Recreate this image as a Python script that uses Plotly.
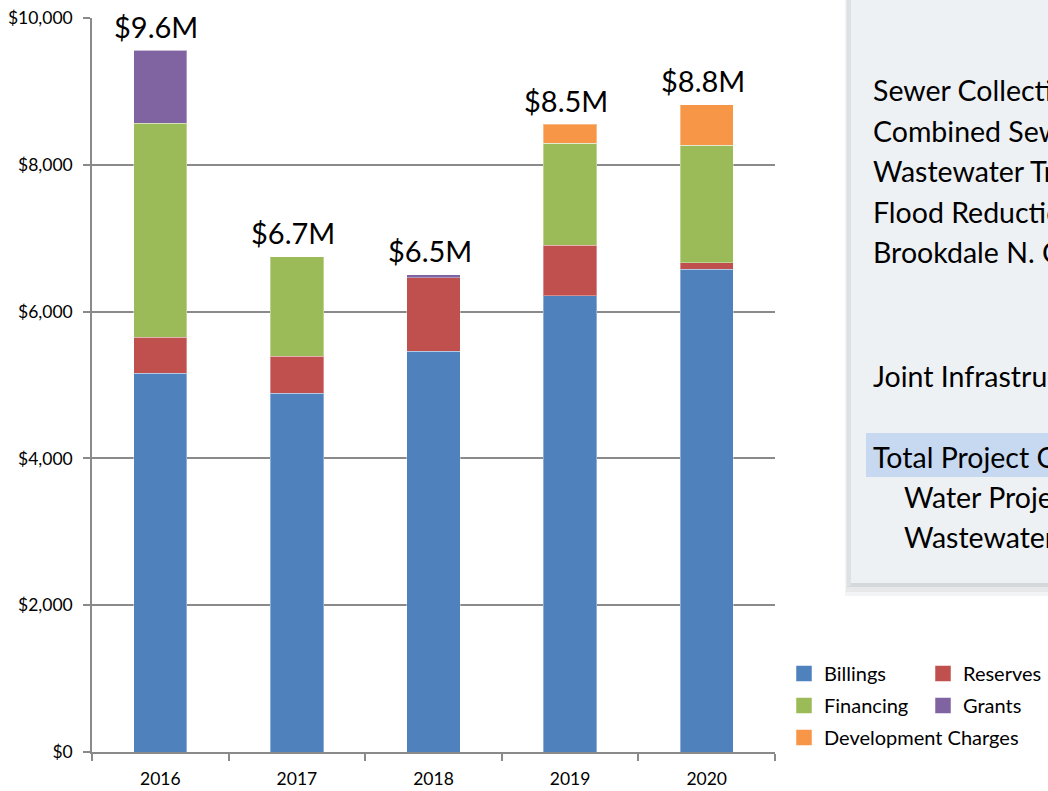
import plotly.graph_objects as go

years = ["2016", "2017", "2018", "2019", "2020"]
billings = [5163, 4891, 5463, 6213, 6576]
reserves = [490, 504, 999, 694, 90]
financing = [2915, 1349, 0, 1386, 1600]
grants = [995, 0, 43, 0, 0]
dev_charges = [0, 0, 0, 259, 549]
total_labels = ["$9.6M", "$6.7M", "$6.5M", "$8.5M", "$8.8M"]

series = [
    ("Billings", billings, "#4f81bd"),
    ("Reserves", reserves, "#c0504d"),
    ("Financing", financing, "#9bbb59"),
    ("Grants", grants, "#8064a2"),
    ("Development Charges", dev_charges, "#f79646"),
]
legend_slots = ["legend", "legend", "legend2", "legend2", "legend3"]

panel_text = [
    "Sewer Collection",
    "Combined Sewer",
    "Wastewater Treatment",
    "Flood Reduction",
    "Brookdale N. C",
    "Joint Infrastructure",
    "Total Project Costs",
    "Water Projects",
    "Wastewater Projects",
]

W, H = 1048, 791
ML, MR, MT, MB = 92, 273, 18, 39
PW, PH = W - ML - MR, H - MT - MB


def px(x):
    return (x - ML) / PW


def py(y):
    return (H - MB - y) / PH


FONT = "Lato, Calibri, Carlito, sans-serif"

fig = go.Figure()
for (name, vals, col), leg in zip(series, legend_slots):
    fig.add_trace(go.Bar(
        x=years, y=vals, name=name, legendgroup=name, showlegend=False,
        marker=dict(color=col, line=dict(color="rgba(255,255,255,0.35)", width=1)),
    ))
    # legend proxy (no data points) so the legend swatch can be larger
    fig.add_trace(go.Scatter(
        x=[None], y=[None], mode="markers", name=name, legendgroup=name, legend=leg,
        marker=dict(symbol="square", size=21, color=col,
                    line=dict(color="rgba(255,255,255,0.5)", width=1)),
    ))

totals = [sum(v) for v in zip(billings, reserves, financing, grants, dev_charges)]
for i, (tot, lab) in enumerate(zip(totals, total_labels)):
    fig.add_annotation(x=i, y=tot, text=lab, showarrow=False, yanchor="middle",
                       xanchor="center", yshift=24, xshift=-4,
                       font=dict(family=FONT, size=29, color="#000"))


def rect(x0, y0, x1, y1, color):
    return dict(type="rect", xref="paper", yref="paper", x0=px(x0), x1=px(x1),
                y0=py(y1), y1=py(y0), fillcolor=color, line=dict(width=0), layer="below")


shapes = [
    rect(845, -20, 1070, 596, "#f3f4f5"),
    rect(846, -20, 1070, 592, "#e6e8ea"),
    rect(847, -20, 1070, 587, "#d5d8db"),
    rect(847, -20, 851, 586, "#dde1e4"),
    rect(851, -20, 1070, 583, "#eef1f4"),
    rect(866, 433, 1070, 477, "#c6d9f0"),
]
fig.update_layout(shapes=shapes)

ann_font = dict(family=FONT, size=28.5, color="#000")
text_pos = [(871, 90), (871, 131), (871, 171), (871, 212), (871, 252),
            (871, 376), (871, 457), (902, 497), (902, 537)]
for t, (x, y) in zip(panel_text, text_pos):
    fig.add_annotation(xref="paper", yref="paper", x=px(x), y=py(y), text=t,
                       showarrow=False, xanchor="left", yanchor="middle", font=ann_font)

leg_common = dict(orientation="h", xanchor="left", yanchor="top",
                  traceorder="normal", itemwidth=30,
                  font=dict(family=FONT, size=20, color="#000"),
                  bgcolor="rgba(0,0,0,0)", itemclick=False, tracegroupgap=0)

fig.update_layout(
    width=W, height=H,
    margin=dict(l=ML, r=MR, t=MT, b=MB, autoexpand=False),
    barmode="stack", bargap=0.61,
    plot_bgcolor="white", paper_bgcolor="white",
    font=dict(family=FONT, color="#000"),
    legend=dict(x=px(784), y=py(654), entrywidth=94, **leg_common),
    legend2=dict(x=px(784), y=py(686), entrywidth=94, **leg_common),
    legend3=dict(x=px(784), y=py(718), **leg_common),
    yaxis=dict(range=[0, 10000], dtick=2000, tickprefix="$", tickformat=",d",
               showgrid=True, gridcolor="#8a8a8a", gridwidth=1.5,
               showline=True, linecolor="#8a8a8a", linewidth=1.5,
               ticks="outside", ticklen=7, tickcolor="#8a8a8a", tickwidth=1.5,
               ticklabelstandoff=7,
               tickfont=dict(family=FONT, size=17.5, color="#000"), zeroline=False),
    xaxis=dict(type="category", range=[-0.5, 4.5], showline=True, linecolor="#8a8a8a",
               linewidth=1.5, ticks="outside", tickson="boundaries", ticklen=7,
               tickcolor="#8a8a8a", tickwidth=1.5, ticklabelstandoff=10,
               tickfont=dict(family=FONT, size=17.5, color="#000")),
)

fig.write_html("out.html", config={"displayModeBar": False},
               post_script="document.body.style.margin='0';")
